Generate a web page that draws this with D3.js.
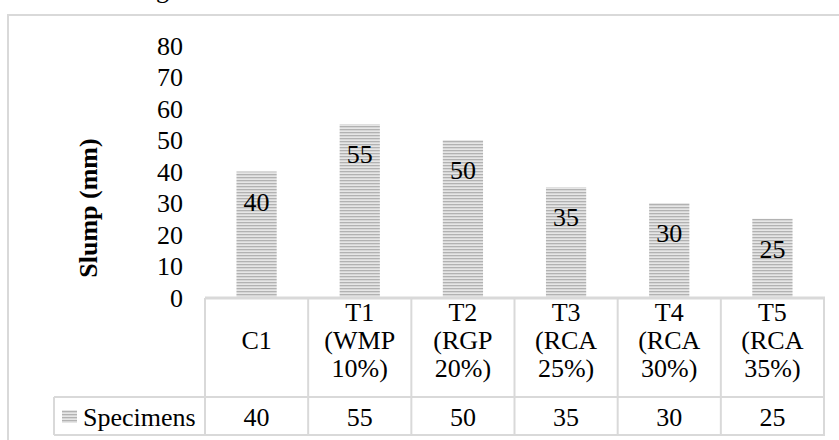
<!DOCTYPE html>
<html>
<head>
<meta charset="utf-8">
<script src="https://cdn.jsdelivr.net/npm/d3@7"></script>
<style>
  html, body { margin: 0; padding: 0; background: #fff; }
  text { font-family: "Liberation Serif", "DejaVu Serif", serif !important; }
</style>
</head>
<body>
<svg id="chart" width="839" height="440"></svg>
<script>
const categories = [
  ["C1"],
  ["T1", "(WMP", "10%)"],
  ["T2", "(RGP", "20%)"],
  ["T3", "(RCA", "25%)"],
  ["T4", "(RCA", "30%)"],
  ["T5", "(RCA", "35%)"]
];
const categoryKeys = ["C1", "T1", "T2", "T3", "T4", "T5"];
const seriesName = "Specimens";
const values = [40, 55, 50, 35, 30, 25];
const yTicks = [0, 10, 20, 30, 40, 50, 60, 70, 80];
const yTitle = "Slump (mm)";

const FONT = "Liberation Serif";
const svg = d3.select("#chart").attr("font-family", FONT);
const grid = "#d9d9d9";
const fs = 25;

// stripe pattern
const defs = svg.append("defs");
const pat = defs.append("pattern").attr("id", "stripes")
  .attr("patternUnits", "userSpaceOnUse").attr("width", 4).attr("height", 3);
pat.append("rect").attr("width", 4).attr("height", 3).attr("fill", "#d6d6d6");
pat.append("rect").attr("y", 0).attr("width", 4).attr("height", 1).attr("fill", "#b2b2b2");
pat.append("rect").attr("y", 2).attr("width", 4).attr("height", 1).attr("fill", "#e6e6e6");

// outer chart border (extends beyond the crop)
svg.append("rect").attr("x", 8).attr("y", 15).attr("width", 900).attr("height", 500)
  .attr("fill", "none").attr("stroke", grid).attr("stroke-width", 2);

// cropped caption fragment above
svg.append("text").attr("x", 156).attr("y", -2).attr("font-family", FONT)
  .attr("font-size", 26).attr("fill", "#000").text("g");

const x = d3.scaleBand().domain(categoryKeys).range([205, 824]).paddingInner(0).paddingOuter(0);
const y = d3.scaleLinear().domain([0, 80]).range([297.5, 45.5]);
const barW = x.bandwidth() * 0.39;

// y axis labels
const yAxis = d3.axisLeft(y).tickValues(yTicks).tickSize(0).tickPadding(0);
const ya = svg.append("g").attr("transform", "translate(183,0)").call(yAxis)
  .attr("font-family", FONT);
ya.select(".domain").remove();
ya.selectAll("text").attr("font-size", 26).attr("font-family", FONT)
  .attr("fill", "#000").attr("dy", "0.33em");

// y title
svg.append("text").attr("transform", "translate(88,208) rotate(-90)")
  .attr("text-anchor", "middle").attr("dominant-baseline", "central").attr("font-family", FONT)
  .attr("font-size", 26).attr("font-weight", "bold").attr("fill", "#000").text(yTitle);

// bars
svg.append("g").selectAll("rect").data(values).join("rect")
  .attr("x", (d, i) => x(categoryKeys[i]) + (x.bandwidth() - barW) / 2)
  .attr("y", d => y(d))
  .attr("width", barW)
  .attr("height", d => y(0) - y(d))
  .attr("fill", "url(#stripes)");

// value labels
svg.append("g").selectAll("text").data(values).join("text")
  .attr("x", (d, i) => x(categoryKeys[i]) + x.bandwidth() / 2)
  .attr("y", d => y(d) + 30)
  .attr("text-anchor", "middle").attr("dy", "0.35em").attr("font-family", FONT)
  .attr("font-size", 26).attr("fill", "#000").text(d => d);

// table
const tTop = 298, tMid = 397, tBot = 435, legLeft = 54;
const tg = svg.append("g").attr("stroke", grid).attr("stroke-width", 2).attr("fill", "none");
tg.append("line").attr("x1", 205).attr("x2", 825).attr("y1", tTop).attr("y2", tTop).attr("stroke-width", 3);
tg.append("line").attr("x1", legLeft).attr("x2", 825).attr("y1", tMid).attr("y2", tMid);
tg.append("line").attr("x1", legLeft).attr("x2", 825).attr("y1", tBot).attr("y2", tBot);
tg.append("line").attr("x1", legLeft).attr("x2", legLeft).attr("y1", tMid).attr("y2", tBot);
const bounds = categoryKeys.map(k => x(k)).concat([x.range()[1]]);
tg.selectAll(".v").data(bounds).join("line").attr("class", "v")
  .attr("x1", d => d).attr("x2", d => d).attr("y1", tTop).attr("y2", tBot);

// header text
categories.forEach((lines, i) => {
  const cx = x(categoryKeys[i]) + x.bandwidth() / 2;
  lines.forEach((ln, j) => {
    svg.append("text").attr("x", cx).attr("y", 340 + (j - (lines.length - 1) / 2) * 28)
      .attr("text-anchor", "middle").attr("dy", "0.35em").attr("font-family", FONT)
      .attr("font-size", 26).attr("fill", "#000").text(ln);
  });
});

// data row
svg.append("g").selectAll("text").data(values).join("text")
  .attr("x", (d, i) => x(categoryKeys[i]) + x.bandwidth() / 2)
  .attr("y", 417).attr("text-anchor", "middle").attr("dy", "0.35em").attr("font-family", FONT)
  .attr("font-size", 26).attr("fill", "#000").text(d => d);

// legend key
svg.append("rect").attr("x", 62).attr("y", 410).attr("width", 15).attr("height", 13).attr("fill", "url(#stripes)");
svg.append("text").attr("x", 83).attr("y", 417).attr("dy", "0.35em").attr("font-family", FONT)
  .attr("font-size", 26).attr("fill", "#000").text(seriesName);
</script>
</body>
</html>
